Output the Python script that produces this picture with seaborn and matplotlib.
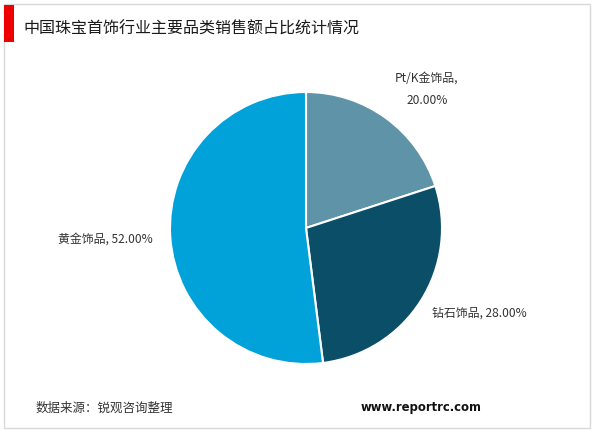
import matplotlib
matplotlib.use("Agg")
import matplotlib.pyplot as plt
from matplotlib.patches import Rectangle
import numpy as np
import seaborn as sns

# Sales share of main jewellery categories
categories = ["Pt/K金饰品", "钻石饰品", "黄金饰品"]
shares = [20.00, 28.00, 52.00]
colors = ["#5e93a8", "#0a4e68", "#00a2d9"]

title = "中国珠宝首饰行业主要品类销售额占比统计情况"
source = "数据来源：锐观咨询整理"
website = "www.reportrc.com"

sns.set_theme(style="white")
plt.rcParams["font.family"] = ["Noto Sans CJK SC", "DejaVu Sans"]

W, H = 600, 433
fig = plt.figure(figsize=(W / 100, H / 100), dpi=100)
fig.patch.set_facecolor("white")

# outer frame and red title marker
fig.add_artist(Rectangle((4 / W, 1 - 428 / H), 586 / W, 424 / H, transform=fig.transFigure,
                         fill=False, edgecolor="#d9d9d9", linewidth=1.0))
fig.add_artist(Rectangle((4 / W, 1 - 42 / H), 10 / W, 37 / H, transform=fig.transFigure,
                         facecolor="#ee0000", edgecolor="none"))
fig.text(23 / W, 1 - 29.5 / H, title, fontsize=11.5, color="#1a1a1a", va="center", ha="left")

# pie axes
cx, cy, r = 306, 228, 136
ax = fig.add_axes([(cx - r) / W, 1 - (cy + r) / H, 2 * r / W, 2 * r / H])
wedges, _ = ax.pie(shares, colors=colors, startangle=90, counterclock=False,
                   wedgeprops=dict(edgecolor="white", linewidth=1.5))
ax.set_xlim(-1, 1)
ax.set_ylim(-1, 1)
ax.set_aspect("auto")
ax.axis("off")

# data labels
lab_kw = dict(fontsize=8.6, color="#333333")
fig.text(427 / W, 1 - 89 / H, f"{categories[0]},\n{shares[0]:.2f}%", ha="center", va="center",
         linespacing=1.9, **lab_kw)
fig.text(432 / W, 1 - 313 / H, f"{categories[1]}, {shares[1]:.2f}%", ha="left", va="center", **lab_kw)
fig.text(153 / W, 1 - 239 / H, f"{categories[2]}, {shares[2]:.2f}%", ha="right", va="center", **lab_kw)

# footer
fig.text(36 / W, 1 - 408 / H, source, fontsize=9.0, color="#333333", va="center", ha="left")
fig.text(481 / W, 1 - 408 / H, website, fontsize=8.4, fontweight="bold", color="#111111",
         va="center", ha="right", family=["DejaVu Sans"])

fig.savefig("out.png", dpi=100, facecolor="white")
